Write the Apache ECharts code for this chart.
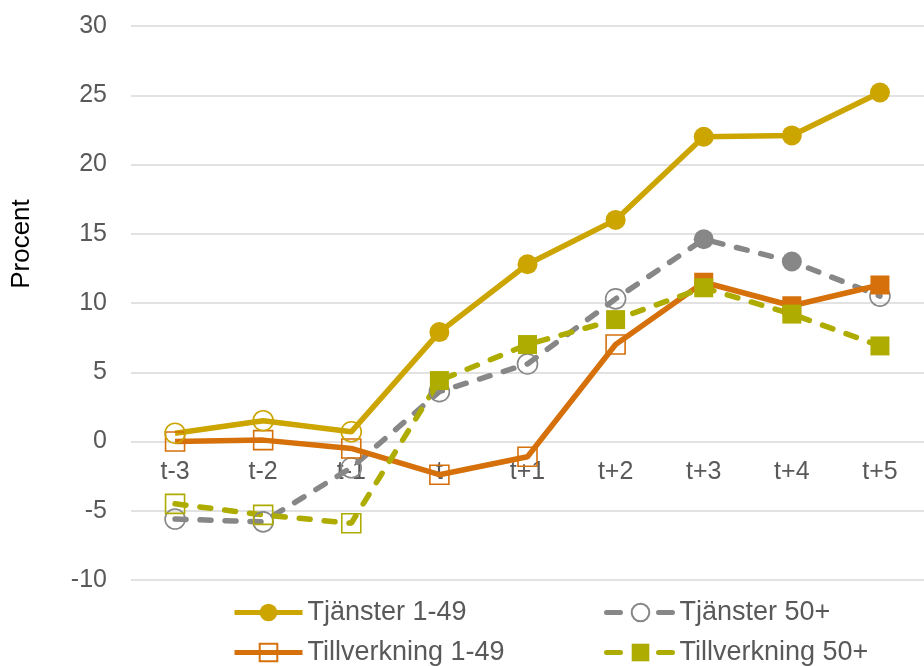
<!DOCTYPE html>
<html>
<head>
<meta charset="utf-8">
<script src="https://cdn.jsdelivr.net/npm/echarts@6/dist/echarts.min.js"></script>
<style>html,body{margin:0;padding:0;background:#fff;}#c{width:924px;height:666px;}</style>
</head>
<body>
<div id="c"></div>
<script>
var categories = ['t-3','t-2','t-1','t','t+1','t+2','t+3','t+4','t+5'];
var tjanster149 = [0.6, 1.5, 0.7, 7.9, 12.8, 16.0, 22.0, 22.1, 25.2];
var tjanster50 = [-5.6, -5.8, -1.9, 3.6, 5.6, 10.3, 14.6, 13.0, 10.5];
var tillv149 = [0.0, 0.1, -0.5, -2.4, -1.1, 7.0, 11.5, 9.8, 11.3];
var tillv50 = [-4.5, -5.3, -5.9, 4.4, 7.0, 8.8, 11.1, 9.2, 6.9];
// marker fill flags (true = filled)
var fillTj149 = [false,false,false,true,true,true,true,true,true];
var fillTj50 = [false,false,false,false,false,false,true,true,false];
var fillTv149 = [false,false,false,false,false,false,true,true,true];
var fillTv50 = [false,false,false,true,true,true,true,true,true];
var names = ['Tjänster 1-49','Tjänster 50+','Tillverkning 1-49','Tillverkning 50+'];

var HOLLOW = 'rgba(255,255,255,0)';
function pts(vals, fills, color, seriesFilled) {
  return vals.map(function(v, i){
    var f = fills[i];
    if (f === seriesFilled) return v;
    return {value: v, itemStyle: {color: f ? color : HOLLOW, borderColor: color, borderWidth: f ? 0 : 1.6}};
  });
}

var GOLD = '#CCA500', GRAY = '#878787', ORANGE = '#D5700A', OLIVE = '#AEAC00';
var FONT = 'Liberation Sans, Arial';
var DASH = [11, 14];

function leg(name, left, top, ls) {
  return {
    data: [{name: name, lineStyle: ls}],
    orient: 'horizontal', left: left, top: top, padding: 0,
    itemWidth: 68, itemHeight: 22,
    textStyle: {color: '#595959', fontSize: 27, fontFamily: FONT}
  };
}

var chart = echarts.init(document.getElementById('c'));
chart.setOption({
  animation: false,
  grid: {left: 131, top: 26, width: 802, height: 554, containLabel: false},
  xAxis: {
    type: 'category', data: categories, boundaryGap: true,
    axisLine: {show: true, onZero: true, lineStyle: {color: 'rgba(0,0,0,0)'}},
    axisTick: {show: false},
    axisLabel: {color: '#595959', fontSize: 25, fontFamily: FONT, margin: -120},
    splitLine: {show: false}
  },
  yAxis: {
    type: 'value', min: -10, max: 30, interval: 5,
    axisLine: {show: false}, axisTick: {show: false},
    axisLabel: {color: '#595959', fontSize: 25, fontFamily: FONT, margin: 24},
    splitLine: {lineStyle: {color: '#d9d9d9', width: 1.5}}
  },
  graphic: [{
    type: 'text', x: 22, y: 244, rotation: Math.PI/2,
    style: {text: 'Procent', fill: '#000000', font: '26px Liberation Sans, Arial', align: 'center', verticalAlign: 'middle'}
  }],
  legend: [
    leg(names[0], 232, 599, {color: GOLD, width: 5}),
    leg(names[2], 232, 639, {color: ORANGE, width: 5}),
    leg(names[1], 604, 599, {color: GRAY, width: 5, type: [14, 38], cap: 'round'}),
    leg(names[3], 604, 639, {color: OLIVE, width: 5, type: [14, 38], cap: 'round'})
  ],
  series: [
    {name: names[1], type: 'line', data: pts(tjanster50, fillTj50, GRAY, false),
     symbol: 'circle', symbolSize: 20,
     itemStyle: {color: HOLLOW, borderColor: GRAY, borderWidth: 1.6},
     lineStyle: {color: GRAY, width: 5.5, type: DASH, cap: 'round'}},
    {name: names[2], type: 'line', data: pts(tillv149, fillTv149, ORANGE, false),
     symbol: 'rect', symbolSize: 19,
     itemStyle: {color: HOLLOW, borderColor: ORANGE, borderWidth: 1.6},
     lineStyle: {color: ORANGE, width: 5.5}},
    {name: names[3], type: 'line', data: pts(tillv50, fillTv50, OLIVE, true),
     symbol: 'rect', symbolSize: 19,
     itemStyle: {color: OLIVE, borderColor: OLIVE, borderWidth: 0},
     lineStyle: {color: OLIVE, width: 5.5, type: DASH, cap: 'round'}},
    {name: names[0], type: 'line', data: pts(tjanster149, fillTj149, GOLD, true),
     symbol: 'circle', symbolSize: 20,
     itemStyle: {color: GOLD, borderColor: GOLD, borderWidth: 0},
     lineStyle: {color: GOLD, width: 5.5}}
  ]
});
</script>
</body>
</html>
